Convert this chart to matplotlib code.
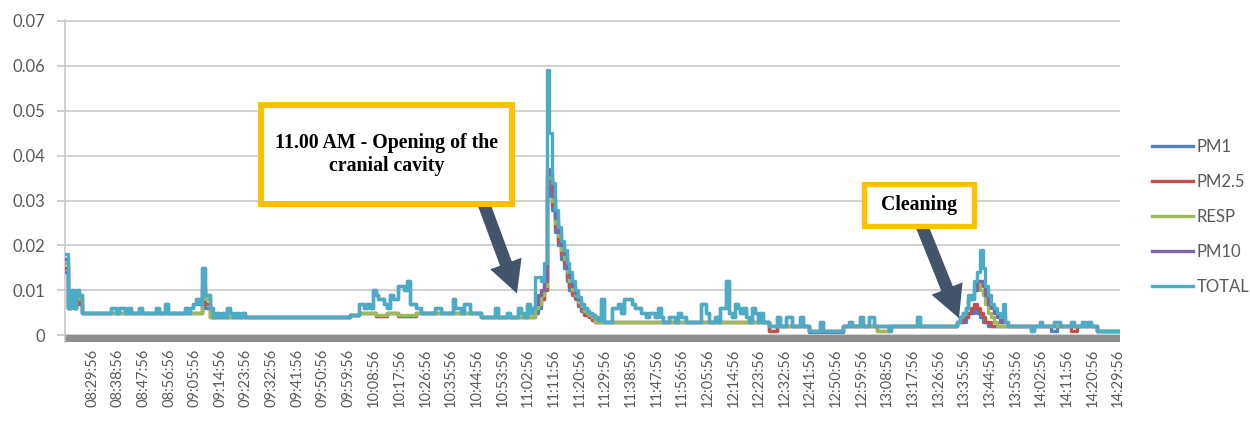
import matplotlib
matplotlib.use('Agg')
import matplotlib.pyplot as plt
import numpy as np
import pandas as pd
from matplotlib.patches import Rectangle

plt.rcParams['font.family'] = ['Lato', 'DejaVu Sans']

# one reading per minute, starting at 08:20:56; runs of (value, minutes)
start_time = '08:20:56'

total_runs = [
    (0.018, 1), (0.006, 1), (0.010, 1), (0.006, 1), (0.010, 1), (0.009, 1),
    (0.005, 10), (0.006, 2), (0.005, 1), (0.006, 2), (0.005, 1), (0.006, 1),
    (0.005, 3), (0.006, 1), (0.005, 5), (0.006, 1), (0.005, 2), (0.007, 1),
    (0.005, 6), (0.006, 1), (0.005, 1), (0.006, 1), (0.007, 1), (0.008, 1),
    (0.007, 1), (0.015, 1), (0.009, 2), (0.006, 1), (0.004, 1), (0.005, 1),
    (0.004, 1), (0.005, 1), (0.004, 1), (0.006, 1), (0.005, 1), (0.004, 1),
    (0.005, 1), (0.004, 1), (0.005, 1), (0.004, 37), (0.0045, 3), (0.007, 2),
    (0.006, 1), (0.007, 1), (0.006, 1), (0.010, 1), (0.009, 1), (0.008, 2),
    (0.007, 1), (0.006, 1), (0.009, 1), (0.008, 2), (0.011, 2), (0.010, 1),
    (0.012, 1), (0.007, 2), (0.006, 2), (0.005, 5), (0.006, 2), (0.005, 4),
    (0.008, 1), (0.006, 2), (0.005, 1), (0.007, 2), (0.005, 4), (0.004, 5),
    (0.006, 1), (0.004, 3), (0.005, 1), (0.004, 3), (0.006, 1), (0.005, 1),
    (0.004, 1), (0.007, 1), (0.005, 1), (0.006, 1), (0.013, 2), (0.012, 1),
    (0.016, 1), (0.059, 1), (0.045, 1), (0.034, 1), (0.028, 1), (0.024, 1),
    (0.021, 1), (0.019, 1), (0.016, 1), (0.014, 1), (0.012, 1), (0.010, 1),
    (0.0085, 1), (0.007, 1), (0.006, 1), (0.0055, 1), (0.005, 1), (0.0045, 1),
    (0.004, 1), (0.0035, 1), (0.008, 1), (0.003, 3), (0.006, 2), (0.007, 1),
    (0.005, 1), (0.008, 3), (0.007, 1), (0.006, 2), (0.005, 2), (0.004, 1),
    (0.005, 2), (0.004, 1), (0.006, 1), (0.004, 1), (0.003, 2), (0.004, 2),
    (0.003, 1), (0.005, 1), (0.004, 2), (0.003, 5), (0.007, 2), (0.005, 1),
    (0.003, 2), (0.004, 1), (0.003, 1), (0.006, 2), (0.012, 1), (0.005, 1),
    (0.004, 1), (0.007, 1), (0.006, 1), (0.005, 1), (0.006, 1), (0.004, 1),
    (0.003, 1), (0.006, 1), (0.005, 1), (0.003, 1), (0.005, 1), (0.003, 2),
    (0.002, 3), (0.004, 1), (0.002, 2), (0.004, 2), (0.002, 3), (0.004, 1),
    (0.002, 2), (0.001, 4), (0.003, 1), (0.001, 7), (0.002, 2), (0.003, 1),
    (0.002, 3), (0.004, 1), (0.002, 2), (0.004, 2), (0.002, 5), (0.001, 1),
    (0.002, 9), (0.004, 1), (0.002, 13), (0.003, 1), (0.004, 1), (0.005, 1),
    (0.006, 1), (0.009, 1), (0.008, 1), (0.012, 1), (0.014, 1), (0.019, 1),
    (0.015, 1), (0.011, 1), (0.009, 1), (0.007, 1), (0.006, 1), (0.005, 1),
    (0.004, 1), (0.007, 1), (0.003, 1), (0.002, 8), (0.001, 1), (0.002, 2),
    (0.003, 1), (0.002, 4), (0.003, 2), (0.002, 4), (0.003, 1), (0.002, 3),
    (0.003, 1), (0.002, 1), (0.003, 1), (0.002, 2), (0.001, 8),
]

pm10_runs = [
    (0.017, 1), (0.006, 1), (0.010, 1), (0.006, 1), (0.010, 1), (0.009, 1),
    (0.005, 10), (0.006, 2), (0.005, 1), (0.006, 2), (0.005, 1), (0.006, 1),
    (0.005, 3), (0.006, 1), (0.005, 5), (0.006, 1), (0.005, 2), (0.007, 1),
    (0.005, 6), (0.006, 1), (0.005, 1), (0.006, 1), (0.007, 1), (0.008, 1),
    (0.007, 1), (0.015, 1), (0.009, 2), (0.006, 1), (0.004, 1), (0.005, 1),
    (0.004, 1), (0.005, 1), (0.004, 1), (0.006, 1), (0.005, 1), (0.004, 1),
    (0.005, 1), (0.004, 1), (0.005, 1), (0.004, 37), (0.0045, 3), (0.007, 2),
    (0.006, 1), (0.007, 1), (0.006, 1), (0.010, 1), (0.009, 1), (0.008, 2),
    (0.007, 1), (0.006, 1), (0.009, 1), (0.008, 2), (0.011, 2), (0.010, 1),
    (0.012, 1), (0.007, 2), (0.006, 2), (0.005, 5), (0.006, 2), (0.005, 4),
    (0.008, 1), (0.006, 2), (0.005, 1), (0.007, 2), (0.005, 4), (0.004, 5),
    (0.006, 1), (0.004, 3), (0.005, 1), (0.004, 3), (0.006, 1), (0.005, 1),
    (0.004, 1), (0.007, 1), (0.005, 1), (0.006, 1),
    (0.007, 1), (0.009, 1), (0.010, 1), (0.012, 1),
    (0.037, 1), (0.036, 1), (0.031, 1), (0.026, 1), (0.023, 1), (0.020, 1),
    (0.018, 1), (0.015, 1), (0.013, 1), (0.011, 1), (0.0095, 1), (0.008, 1),
    (0.007, 1), (0.006, 1), (0.0055, 1), (0.005, 1), (0.0045, 1), (0.004, 1),
    (0.0035, 1), (0.008, 1), (0.003, 3), (0.006, 2), (0.007, 1),
    (0.005, 1), (0.008, 3), (0.007, 1), (0.006, 2), (0.005, 2), (0.004, 1),
    (0.005, 2), (0.004, 1), (0.006, 1), (0.004, 1), (0.003, 2), (0.004, 2),
    (0.003, 1), (0.005, 1), (0.004, 2), (0.003, 5), (0.007, 2), (0.005, 1),
    (0.003, 2), (0.004, 1), (0.003, 1), (0.006, 2), (0.012, 1), (0.005, 1),
    (0.004, 1), (0.007, 1), (0.006, 1), (0.005, 1), (0.006, 1), (0.004, 1),
    (0.003, 1), (0.006, 1), (0.005, 1), (0.003, 1), (0.005, 1), (0.003, 2),
    (0.002, 3), (0.004, 1), (0.002, 2), (0.004, 2), (0.002, 3), (0.004, 1),
    (0.002, 2), (0.001, 4), (0.003, 1), (0.001, 7), (0.002, 2), (0.003, 1),
    (0.002, 3), (0.004, 1), (0.002, 2), (0.004, 2), (0.002, 5), (0.001, 1),
    (0.002, 9), (0.004, 1), (0.002, 13),
    (0.003, 1), (0.004, 1), (0.005, 1), (0.006, 1), (0.008, 1), (0.008, 1),
    (0.010, 1), (0.012, 1), (0.012, 1), (0.011, 1), (0.009, 1), (0.007, 1),
    (0.006, 1), (0.005, 1), (0.004, 1), (0.003, 1), (0.005, 1),
    (0.003, 1), (0.002, 8), (0.001, 1), (0.002, 2),
    (0.003, 1), (0.002, 4), (0.003, 2), (0.002, 4), (0.003, 1), (0.002, 3),
    (0.003, 1), (0.002, 1), (0.003, 1), (0.002, 2), (0.001, 8),
]

resp_runs = [
    (0.016, 1), (0.006, 1), (0.009, 1), (0.006, 1), (0.009, 1), (0.008, 1),
    (0.005, 42), (0.011, 1), (0.008, 2), (0.004, 49), (0.0045, 3),
    (0.005, 6), (0.0045, 4), (0.005, 4), (0.0045, 6), (0.005, 23), (0.004, 19),
    (0.006, 1), (0.007, 1), (0.009, 1), (0.011, 1),
    (0.035, 1), (0.036, 1), (0.030, 1), (0.025, 1), (0.022, 1), (0.019, 1),
    (0.017, 1), (0.014, 1), (0.012, 1), (0.010, 1), (0.009, 1), (0.0075, 1),
    (0.0065, 1), (0.0055, 1), (0.005, 1), (0.0045, 1), (0.004, 1),
    (0.003, 61), (0.002, 14), (0.001, 12), (0.002, 12), (0.001, 4), (0.002, 24),
    (0.003, 1), (0.004, 1), (0.005, 1), (0.006, 1), (0.008, 1), (0.009, 1),
    (0.010, 1), (0.012, 1), (0.010, 1), (0.009, 1), (0.007, 1), (0.005, 1),
    (0.004, 1), (0.003, 1), (0.002, 35), (0.001, 8),
]

pm25_runs = [
    (0.015, 1), (0.006, 1), (0.009, 1), (0.006, 1), (0.008, 1), (0.007, 1),
    (0.005, 42), (0.010, 1), (0.007, 2), (0.004, 49), (0.0045, 3),
    (0.005, 6), (0.0043, 4), (0.005, 4), (0.0043, 6), (0.005, 23), (0.004, 19),
    (0.006, 1), (0.007, 1), (0.008, 1), (0.010, 1),
    (0.033, 1), (0.035, 1), (0.029, 1), (0.024, 1), (0.021, 1), (0.018, 1),
    (0.016, 1), (0.013, 1), (0.011, 1), (0.0095, 1), (0.0085, 1), (0.007, 1),
    (0.006, 1), (0.0045, 1), (0.0045, 1), (0.004, 1), (0.0035, 1),
    (0.003, 61), (0.001, 3), (0.002, 11), (0.001, 12), (0.002, 12), (0.001, 4),
    (0.002, 24),
    (0.003, 2), (0.004, 2), (0.005, 1), (0.006, 1), (0.007, 1), (0.006, 1),
    (0.005, 1), (0.004, 1), (0.003, 2), (0.002, 2),
    (0.002, 26), (0.001, 2), (0.002, 7), (0.001, 8),
]

pm1_runs = [
    (0.014, 1), (0.006, 1), (0.008, 1), (0.006, 1), (0.008, 1), (0.007, 1),
    (0.005, 42), (0.009, 1), (0.006, 2), (0.004, 49), (0.0045, 3),
    (0.005, 6), (0.0042, 4), (0.005, 4), (0.0042, 6), (0.005, 23), (0.004, 19),
    (0.005, 1), (0.006, 1), (0.008, 1), (0.010, 1),
    (0.031, 1), (0.034, 1), (0.028, 1), (0.023, 1), (0.020, 1), (0.017, 1),
    (0.015, 1), (0.012, 1), (0.010, 1), (0.009, 1), (0.008, 1), (0.0065, 1),
    (0.0055, 1), (0.005, 1), (0.0045, 1), (0.004, 1), (0.0035, 1),
    (0.003, 61), (0.001, 3), (0.002, 11), (0.0008, 12), (0.002, 40),
    (0.003, 3), (0.004, 1), (0.005, 2), (0.006, 1), (0.005, 1), (0.004, 1),
    (0.003, 2), (0.002, 3),
    (0.002, 19), (0.001, 2), (0.002, 14), (0.001, 8),
]

tick_labels = [
    '08:29:56', '08:38:56', '08:47:56', '08:56:56', '09:05:56', '09:14:56',
    '09:23:56', '09:32:56', '09:41:56', '09:50:56', '09:59:56', '10:08:56',
    '10:17:56', '10:26:56', '10:35:56', '10:44:56', '10:53:56', '11:02:56',
    '11:11:56', '11:20:56', '11:29:56', '11:38:56', '11:47:56', '11:56:56',
    '12:05:56', '12:14:56', '12:23:56', '12:32:56', '12:41:56', '12:50:56',
    '12:59:56', '13:08:56', '13:17:56', '13:26:56', '13:35:56', '13:44:56',
    '13:53:56', '14:02:56', '14:11:56', '14:20:56', '14:29:56',
]

series_names = ['PM1', 'PM2.5', 'RESP', 'PM10', 'TOTAL']
series_colors = ['#4F81BD', '#C0504D', '#9BBB59', '#8064A2', '#4BACC6']


def expand(runs):
    return np.concatenate([np.full(n, v) for v, n in runs])


series = [expand(r) for r in (pm1_runs, pm25_runs, resp_runs, pm10_runs, total_runs)]
n = len(series[-1])
for s in series:
    assert len(s) == n, len(s)

times = pd.date_range('2000-01-01 ' + start_time, periods=n, freq='min').strftime('%H:%M:%S')
x = np.arange(n)
tick_pos = [i for i, t in enumerate(times) if t in tick_labels]

fig = plt.figure(figsize=(12.5, 4.23), dpi=100)
ax = fig.add_axes([65 / 1250, 1 - 342 / 423, (1120 - 65) / 1250, (342 - 20) / 423])

grey = '#c4c4c4'
txt = '#595959'
for s, name, c in zip(series, series_names, series_colors):
    ax.plot(x, s, color=c, lw=2.4, label=name, zorder=3, drawstyle='steps-mid')

ax.axhspan(-0.0015, 0.0, color='#8f8f8f', zorder=2, lw=0)

ax.set_xlim(-0.5, n - 0.3)
ax.set_ylim(-0.0015, 0.0702)
ax.set_yticks(np.arange(0, 0.071, 0.01))
ax.set_yticklabels(['0'] + ['%.2f' % v for v in np.arange(0.01, 0.071, 0.01)])
ax.set_xticks(tick_pos)
ax.set_xticklabels([times[i] for i in tick_pos], rotation=90)
ax.tick_params(axis='x', length=0, pad=5, labelsize=10.5, labelcolor=txt)
ax.tick_params(axis='y', length=6, width=1.1, color=grey, pad=8, labelsize=12, labelcolor=txt)
ax.grid(axis='y', color=grey, lw=1.1, zorder=1)
for sp in ['top', 'right', 'bottom']:
    ax.spines[sp].set_visible(False)
ax.spines['left'].set_color(grey)
ax.spines['left'].set_linewidth(1.1)

# annotation boxes with arrows
arrow_style = 'simple,head_length=2.3,head_width=2.4,tail_width=0.9'
ax.annotate('', xy=(158.1, 0.0093), xytext=(146.5, 0.0292),
            arrowprops=dict(arrowstyle=arrow_style, fc='#44546A', ec='none',
                            mutation_scale=10, shrinkA=0, shrinkB=0), zorder=5)
ax.annotate('', xy=(313.2, 0.0038), xytext=(300.2, 0.0243),
            arrowprops=dict(arrowstyle=arrow_style, fc='#44546A', ec='none',
                            mutation_scale=10, shrinkA=0, shrinkB=0), zorder=5)

ax.add_patch(Rectangle((68.3, 0.02922), 156.2 - 68.3, 0.05122 - 0.02922,
                       fc='white', ec='#FFC000', lw=4.3, zorder=6, clip_on=False))
ax.text(112.3, 0.0402, '11.00 AM - Opening of the\ncranial cavity', ha='center', va='center',
        family='Liberation Serif', weight='bold', fontsize=14.3, zorder=7)
ax.add_patch(Rectangle((280.0, 0.02429), 318.5 - 280.0, 0.03371 - 0.02429,
                       fc='white', ec='#FFC000', lw=3.8, zorder=6, clip_on=False))
ax.text(299.2, 0.0291, 'Cleaning', ha='center', va='center',
        family='Liberation Serif', weight='bold', fontsize=14.3, zorder=7)

leg = fig.legend(*ax.get_legend_handles_labels(), loc='center left',
                 bbox_to_anchor=(1152 / 1250, 1 - 217 / 423), frameon=False,
                 fontsize=12, labelspacing=1.13, handlelength=2.45, handletextpad=0.25,
                 borderpad=0, borderaxespad=0)
for t in leg.get_texts():
    t.set_color(txt)

fig.savefig('out.png', dpi=100)
